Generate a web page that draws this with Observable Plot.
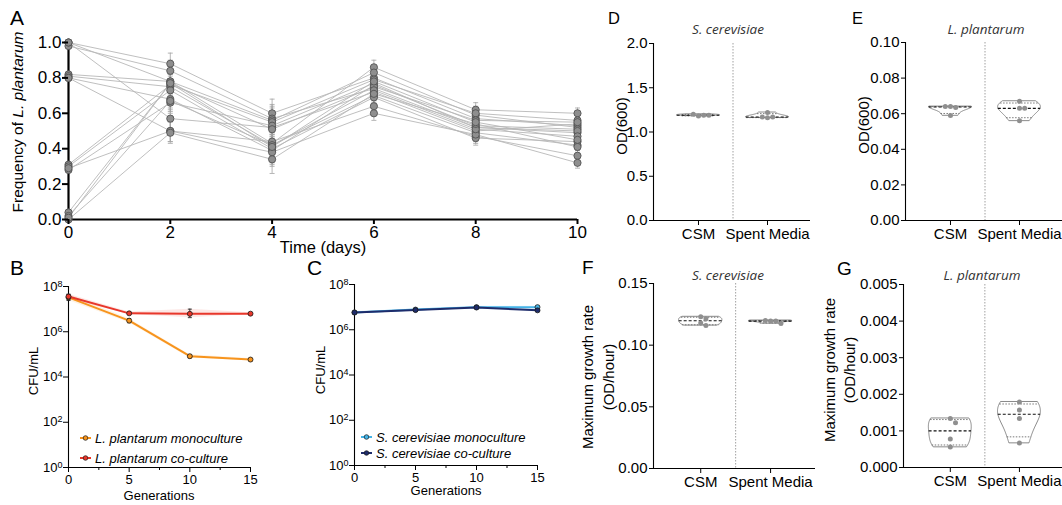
<!DOCTYPE html>
<html><head><meta charset="utf-8">
<script src="https://cdn.jsdelivr.net/npm/d3@7"></script>
<script src="https://cdn.jsdelivr.net/npm/@observablehq/plot@0.6"></script>
<style>
body{margin:0;background:#fff;}
#fig{position:relative;width:1062px;height:505px;overflow:hidden;background:#fff;}
#fig svg{position:absolute;overflow:visible;}
</style></head><body><div id="fig"></div><script>
// ---------- Panel A data: frequency of L. plantarum, replicate lines grouped by starting frequency ----------
const days = [0, 2, 4, 6, 8, 10];
const freqStart100 = [[1.00,0.88,0.60,0.80,0.57,0.53],[0.98,0.84,0.57,0.74,0.52,0.49],[1.00,0.78,0.43,0.86,0.62,0.60],[1.00,0.57,0.52,0.72,0.50,0.54]];
const freqStart80  = [[0.82,0.78,0.56,0.83,0.59,0.52],[0.81,0.75,0.42,0.70,0.49,0.42],[0.80,0.68,0.39,0.76,0.53,0.51],[0.80,0.50,0.44,0.64,0.47,0.36]];
const freqStart30  = [[0.31,0.76,0.55,0.79,0.60,0.56],[0.30,0.73,0.40,0.69,0.46,0.44],[0.28,0.66,0.53,0.77,0.52,0.50],[0.29,0.50,0.38,0.60,0.48,0.32]];
const freqStart0   = [[0.04,0.77,0.51,0.75,0.56,0.55],[0.02,0.67,0.42,0.73,0.51,0.47],[0.00,0.49,0.34,0.71,0.54,0.41],[0.01,0.77,0.41,0.78,0.55,0.45]];
const freqErrByDay = [0.01, 0.06, 0.08, 0.04, 0.04, 0.03];
const freqTicks = [0, 0.2, 0.4, 0.6, 0.8, 1.0];

// ---------- Panels B & C data: CFU/mL over generations ----------
const generations = [0, 5, 10, 15];
const genMinorTicks = [2.5, 7.5, 12.5];
const cfuTicks = [1, 1e2, 1e4, 1e6, 1e8];
const lpMono     = [3.3e7, 3.1e6, 8.3e4, 5.9e4];
const lpMonoLow  = [2.4e7, 2.5e6, 7.0e4, 5.2e4];
const lpMonoHigh = [4.4e7, 3.8e6, 9.6e4, 6.6e4];
const lpCo       = [3.6e7, 6.5e6, 6.2e6, 6.3e6];
const lpCoLow    = [2.8e7, 5.8e6, 4.2e6, 5.8e6];
const lpCoHigh   = [4.6e7, 7.4e6, 1.0e7, 6.9e6];
const scMono     = [5.8e6, 7.8e6, 1.0e7, 1.0e7];
const scMonoLow  = [5.3e6, 7.2e6, 9.2e6, 9.0e6];
const scMonoHigh = [6.3e6, 8.4e6, 1.1e7, 1.1e7];
const scCo       = [5.8e6, 7.4e6, 9.6e6, 7.2e6];
const scCoLow    = [5.3e6, 6.9e6, 8.9e6, 6.6e6];
const scCoHigh   = [6.3e6, 7.9e6, 1.03e7, 7.8e6];

// ---------- Panels D-G data ----------
const media = ["CSM", "Spent Media"];
const odScCSM = [1.18, 1.19, 1.20, 1.19];
const odScSpent = [1.16, 1.17, 1.22, 1.17];
const odLpCSM = [0.064, 0.0635, 0.064, 0.059];
const odLpSpent = [0.067, 0.063, 0.063, 0.056];
const rateScCSM = [0.123, 0.1215, 0.118, 0.116];
const rateScSpent = [0.1195, 0.1195, 0.120, 0.1175];
const rateLpCSM = [0.00134, 0.00122, 0.00078, 0.00056];
const rateLpSpent = [0.00179, 0.00157, 0.00134, 0.00067];
const odScTicks = [0, 0.5, 1.0, 1.5, 2.0];
const odLpTicks = [0, 0.02, 0.04, 0.06, 0.08, 0.10];
const rateScTicks = [0, 0.05, 0.10, 0.15];
const rateLpTicks = [0, 0.001, 0.002, 0.003, 0.004, 0.005];

// ---------- helpers ----------
const FONT = '"Liberation Sans", Arial, Helvetica, sans-serif';
const fig = document.getElementById("fig");
function mount(svg, left, top) { svg.style.position = "absolute"; svg.style.left = left + "px"; svg.style.top = top + "px"; fig.appendChild(svg); }
function st(size) { return {fontFamily: FONT, fontSize: size + "px", background: "transparent", color: "#000", overflow: "visible"}; }
const capSym = {draw(ctx, size) { const r = Math.sqrt(size / Math.PI); ctx.moveTo(-r, 0); ctx.lineTo(r, 0); }};
const logFmt = d => "10^" + Math.round(Math.log10(d));
function superscriptTicks(svg) {
  svg.querySelectorAll("text").forEach(t => {
    const m = /^10\^(\d+)$/.exec(t.textContent);
    if (!m) return;
    t.textContent = "";
    const ns = "http://www.w3.org/2000/svg";
    const a = document.createElementNS(ns, "tspan"); a.textContent = "10";
    const b = document.createElementNS(ns, "tspan"); b.textContent = m[1];
    b.setAttribute("font-size", "9px"); b.setAttribute("dy", "-0.45em");
    t.appendChild(a); t.appendChild(b);
  });
  return svg;
}

// ---------- Panel A ----------
const rowsA = [];
[freqStart100, freqStart80, freqStart30, freqStart0].forEach((grp, gi) =>
  grp.forEach((vals, ri) => vals.forEach((f, di) => rowsA.push({rep: gi * 10 + ri, day: days[di], f, err: freqErrByDay[di]}))));
mount(Plot.plot({
  width: 600, height: 255, marginLeft: 68, marginRight: 23, marginTop: 42, marginBottom: 36,
  x: {domain: [0, 10]}, y: {domain: [0, 1]}, style: st(17),
  marks: [
    Plot.line(rowsA, {x: "day", y: "f", z: "rep", stroke: "#b8b8b8", strokeWidth: 0.9}),
    Plot.ruleX(rowsA, {x: "day", y1: d => d.f - d.err, y2: d => d.f + d.err, stroke: "#a3a3a3", strokeWidth: 0.8}),
    Plot.dot(rowsA, {x: "day", y: d => d.f + d.err, symbol: capSym, r: 2.5, fill: "none", stroke: "#a3a3a3", strokeWidth: 0.8}),
    Plot.dot(rowsA, {x: "day", y: d => d.f - d.err, symbol: capSym, r: 2.5, fill: "none", stroke: "#a3a3a3", strokeWidth: 0.8}),
    Plot.ruleX([0], {stroke: "#000", strokeWidth: 2.2}),
    Plot.ruleY([0], {stroke: "#000", strokeWidth: 2.2}),
    Plot.dot(rowsA, {x: "day", y: "f", r: 3.6, fill: "#8e8e8e", stroke: "#525252", strokeWidth: 0.9}),
    Plot.axisY({ticks: freqTicks, tickFormat: d3.format(".1f"), tickSize: 6, tickPadding: 1, strokeWidth: 2, label: null}),
    Plot.axisX({ticks: days, tickFormat: d3.format("d"), tickSize: 5, tickPadding: 1, strokeWidth: 2, label: null})
  ]
}), 0, 0);

// ---------- Panels B and C ----------
function cfuPanel(series, opts) {
  const marks = [];
  for (const s of series) {
    const rows = generations.map((g, i) => ({gen: g, v: s.vals[i], lo: s.lo[i], hi: s.hi[i]}));
    marks.push(Plot.areaY(rows, {x: "gen", y1: "lo", y2: "hi", fill: s.color, fillOpacity: 0.12}));
  }
  marks.push(Plot.ruleX([0], {stroke: "#000", strokeWidth: 1.1}), Plot.ruleY([1], {stroke: "#000", strokeWidth: 1.1}));
  for (const s of series) {
    const rows = generations.map((g, i) => ({gen: g, v: s.vals[i], lo: s.lo[i], hi: s.hi[i]}));
    marks.push(
      Plot.line(rows, {x: "gen", y: "v", stroke: s.color, strokeWidth: 2}),
      Plot.ruleX(rows, {x: "gen", y1: "lo", y2: "hi", stroke: "#222", strokeWidth: 0.9}),
      Plot.dot(rows, {x: "gen", y: "hi", symbol: capSym, r: 2, fill: "none", stroke: "#222", strokeWidth: 0.9}),
      Plot.dot(rows, {x: "gen", y: "lo", symbol: capSym, r: 2, fill: "none", stroke: "#222", strokeWidth: 0.9}),
      Plot.dot(rows, {x: "gen", y: "v", r: 2.5, fill: s.color, stroke: "#1a1a1a", strokeWidth: 0.8})
    );
  }
  marks.push(
    Plot.axisY({ticks: cfuTicks, tickFormat: logFmt, tickSize: 5, tickPadding: 1, label: null}),
    Plot.axisX({ticks: generations, tickFormat: d3.format("d"), tickSize: 5, tickPadding: 2, label: null}),
    Plot.axisX({ticks: genMinorTicks, tickFormat: () => "", tickSize: 3, label: null})
  );
  return superscriptTicks(Plot.plot({...opts, x: {domain: [0, 15]}, y: {type: "log", domain: [1, 1e8]}, style: st(13), marks}));
}
const colLpMono = "#f7941d", colLpCo = "#e8372b", colScMono = "#45b4e8", colScCo = "#1e2c6b";
mount(cfuPanel([
  {vals: lpMono, lo: lpMonoLow, hi: lpMonoHigh, color: colLpMono},
  {vals: lpCo, lo: lpCoLow, hi: lpCoHigh, color: colLpCo}
], {width: 290, height: 240, marginLeft: 68, marginRight: 40, marginTop: 21, marginBottom: 38}), 0, 265);
mount(cfuPanel([
  {vals: scMono, lo: scMonoLow, hi: scMonoHigh, color: colScMono},
  {vals: scCo, lo: scCoLow, hi: scCoHigh, color: colScCo}
], {width: 270, height: 240, marginLeft: 64, marginRight: 23, marginTop: 19, marginBottom: 40}), 290, 265);

// ---------- Panels D-G: truncated violins ----------
function q1n(v, p) { // GraphPad style (n+1) quantile
  const n = v.length, h = (n + 1) * p;
  if (h <= 1) return v[0]; if (h >= n) return v[n - 1];
  const i = Math.floor(h); return v[i - 1] + (h - i) * (v[i] - v[i - 1]);
}
function violinPanel({groups, yDomain, yTicks, fmt, width, height, ml, mt, mb, xDomain}) {
  const HW = 0.31;
  const pxX = (width - ml) / (xDomain[1] - xDomain[0]);
  const pxY = (height - mt - mb) / (yDomain[1] - yDomain[0]);
  const shape = [], stats = [], pts = [];
  groups.forEach((vals, ci) => {
    const v = vals.slice().sort(d3.ascending);
    const n = v.length, lo = v[0], hi = v[n - 1];
    const bw = Math.max(1.06 * d3.deviation(v) * Math.pow(n, -0.2), 1e-9);
    const kde = y => d3.mean(v, x => Math.exp(-0.5 * ((y - x) / bw) ** 2));
    const grid = d3.range(41).map(i => lo + (hi - lo) * i / 40);
    const m = d3.max(grid, kde);
    grid.forEach(y => shape.push({cat: ci, y, w: kde(y) / m}));
    [[0.25, "q"], [0.5, "m"], [0.75, "q"]].forEach(([p, kind]) => { const y = q1n(v, p); stats.push({cat: ci, y, w: kde(y) / m, kind}); });
    const placed = [];
    for (const val of vals) {
      const py = val * pxY; let off = 0;
      for (const k of [0, 1, -1, 2, -2, 3, -3, 4, -4]) { off = k * 5.2; if (placed.every(p => Math.hypot(p.ox - off, p.py - py) >= 5)) break; }
      placed.push({ox: off, py});
      pts.push({x: ci + off / pxX, y: val});
    }
  });
  return Plot.plot({
    width, height, marginLeft: ml, marginRight: 0, marginTop: mt, marginBottom: mb,
    x: {domain: xDomain}, y: {domain: yDomain}, style: st(15),
    marks: [
      Plot.ruleX([0.5], {stroke: "#a0a0a0", strokeWidth: 1, strokeDasharray: "1.5,1.5"}),
      Plot.areaX(shape, {y: "y", x1: d => d.cat - HW * d.w, x2: d => d.cat + HW * d.w, z: "cat", fill: "white", stroke: "#7d7d7d", strokeWidth: 0.9}),
      Plot.ruleY(stats.filter(s => s.kind === "q"), {y: "y", x1: d => d.cat - HW * d.w, x2: d => d.cat + HW * d.w, stroke: "#6a6a6a", strokeWidth: 0.9, strokeDasharray: "1.5,1.5"}),
      Plot.ruleY(stats.filter(s => s.kind === "m"), {y: "y", x1: d => d.cat - HW * d.w, x2: d => d.cat + HW * d.w, stroke: "#111", strokeWidth: 1.1, strokeDasharray: "3,2"}),
      Plot.dot(pts, {x: "x", y: "y", r: 2.5, fill: "#8f8f8f"}),
      Plot.ruleX([xDomain[0]], {stroke: "#000", strokeWidth: 1.1}),
      Plot.ruleY([yDomain[0]], {stroke: "#000", strokeWidth: 1.1}),
      Plot.axisY({ticks: yTicks, tickFormat: fmt, tickSize: 4, tickPadding: 2, label: null}),
      Plot.axisX({ticks: [0, 1], tickFormat: i => media[i], tickSize: 5, tickPadding: 3, label: null})
    ]
  });
}
mount(violinPanel({groups: [odScCSM, odScSpent], yDomain: [0, 2], yTicks: odScTicks, fmt: d3.format(".1f"),
  width: 240, height: 250, ml: 83, mt: 43, mb: 30, xDomain: [-0.652, 1.623]}), 570, 0);
mount(violinPanel({groups: [odLpCSM, odLpSpent], yDomain: [0, 0.1], yTicks: odLpTicks, fmt: d3.format(".2f"),
  width: 252, height: 250, ml: 95, mt: 42, mb: 30, xDomain: [-0.652, 1.623]}), 810, 0);
mount(violinPanel({groups: [rateScCSM, rateScSpent], yDomain: [0, 0.15], yTicks: rateScTicks, fmt: d3.format(".2f"),
  width: 245, height: 255, ml: 83, mt: 33, mb: 37, xDomain: [-0.676, 1.643]}), 570, 250);
mount(violinPanel({groups: [rateLpCSM, rateLpSpent], yDomain: [0, 0.005], yTicks: rateLpTicks, fmt: d3.format(".3f"),
  width: 252, height: 255, ml: 93, mt: 34, mb: 38, xDomain: [-0.677, 1.623]}), 810, 250);

// ---------- text overlay: panel letters, axis titles, legends ----------
const ov = d3.select(fig).append("svg").attr("width", 1062).attr("height", 505)
  .style("left", "0px").style("top", "0px").style("pointer-events", "none").style("font-family", FONT);
function label(x, y, parts, o = {}) {
  const t = ov.append("text").attr("x", x).attr("y", y).attr("font-size", o.size || 15)
    .attr("text-anchor", o.anchor || "start").attr("fill", o.fill || "#000");
  if (o.rotate) t.attr("transform", `rotate(-90 ${x} ${y})`);
  if (o.italic) t.attr("font-style", "italic");
  if (o.family) t.attr("font-family", o.family);
  for (const p of [].concat(parts)) {
    if (typeof p === "string") t.append("tspan").text(p);
    else t.append("tspan").attr("font-style", "italic").text(p.i);
  }
}
// panel letters
label(10, 25, "A", {size: 21}); label(10, 275, "B", {size: 21}); label(307, 275, "C", {size: 21});
label(608, 24, "D", {size: 16.5}); label(852, 24, "E", {size: 16.5});
label(582, 274, "F", {size: 19}); label(837, 275, "G", {size: 19});
// panel A titles
label(23, 122, ["Frequency of ", {i: "L. plantarum"}], {size: 15.5, anchor: "middle", rotate: true});
label(323, 253, "Time (days)", {size: 16.5, anchor: "middle"});
// panel B/C titles
label(38, 371, "CFU/mL", {size: 13, anchor: "middle", rotate: true});
label(159, 500, "Generations", {size: 13, anchor: "middle"});
label(325, 370, "CFU/mL", {size: 13, anchor: "middle", rotate: true});
label(446, 495, "Generations", {size: 13, anchor: "middle"});
// legends
function legendRow(x, y, color, text) {
  ov.append("line").attr("x1", x).attr("x2", x + 11).attr("y1", y).attr("y2", y).attr("stroke", color).attr("stroke-width", 2);
  ov.append("circle").attr("cx", x + 5.5).attr("cy", y).attr("r", 2.3).attr("fill", color).attr("stroke", "#1a1a1a").attr("stroke-width", 0.7);
  label(x + 15, y + 4.5, text, {size: 13, italic: true});
}
legendRow(80, 438, colLpMono, "L. plantarum monoculture");
legendRow(80, 458, colLpCo, "L. plantarum co-culture");
legendRow(361, 437, colScMono, "S. cerevisiae monoculture");
legendRow(361, 453, colScCo, "S. cerevisiae co-culture");
// panels D-G titles
const TF = '"Open Sans", "Noto Sans", sans-serif';
label(728, 34, "S. cerevisiae", {size: 13.5, anchor: "middle", italic: true, family: TF, fill: "#333"});
label(986, 34, "L. plantarum", {size: 13.5, anchor: "middle", italic: true, family: TF, fill: "#333"});
label(728, 280, "S. cerevisiae", {size: 13.5, anchor: "middle", italic: true, family: TF, fill: "#333"});
label(982, 280, "L. plantarum", {size: 13.5, anchor: "middle", italic: true, family: TF, fill: "#333"});
label(627, 126, "OD(600)", {size: 15, anchor: "middle", rotate: true});
label(869, 125, "OD(600)", {size: 15, anchor: "middle", rotate: true});
label(593, 377, "Maximum growth rate", {size: 15, anchor: "middle", rotate: true});
label(614, 377, "(OD/hour)", {size: 15, anchor: "middle", rotate: true});
label(835, 370, "Maximum growth rate", {size: 15, anchor: "middle", rotate: true});
label(855, 370, "(OD/hour)", {size: 15, anchor: "middle", rotate: true});
</script></body></html>
